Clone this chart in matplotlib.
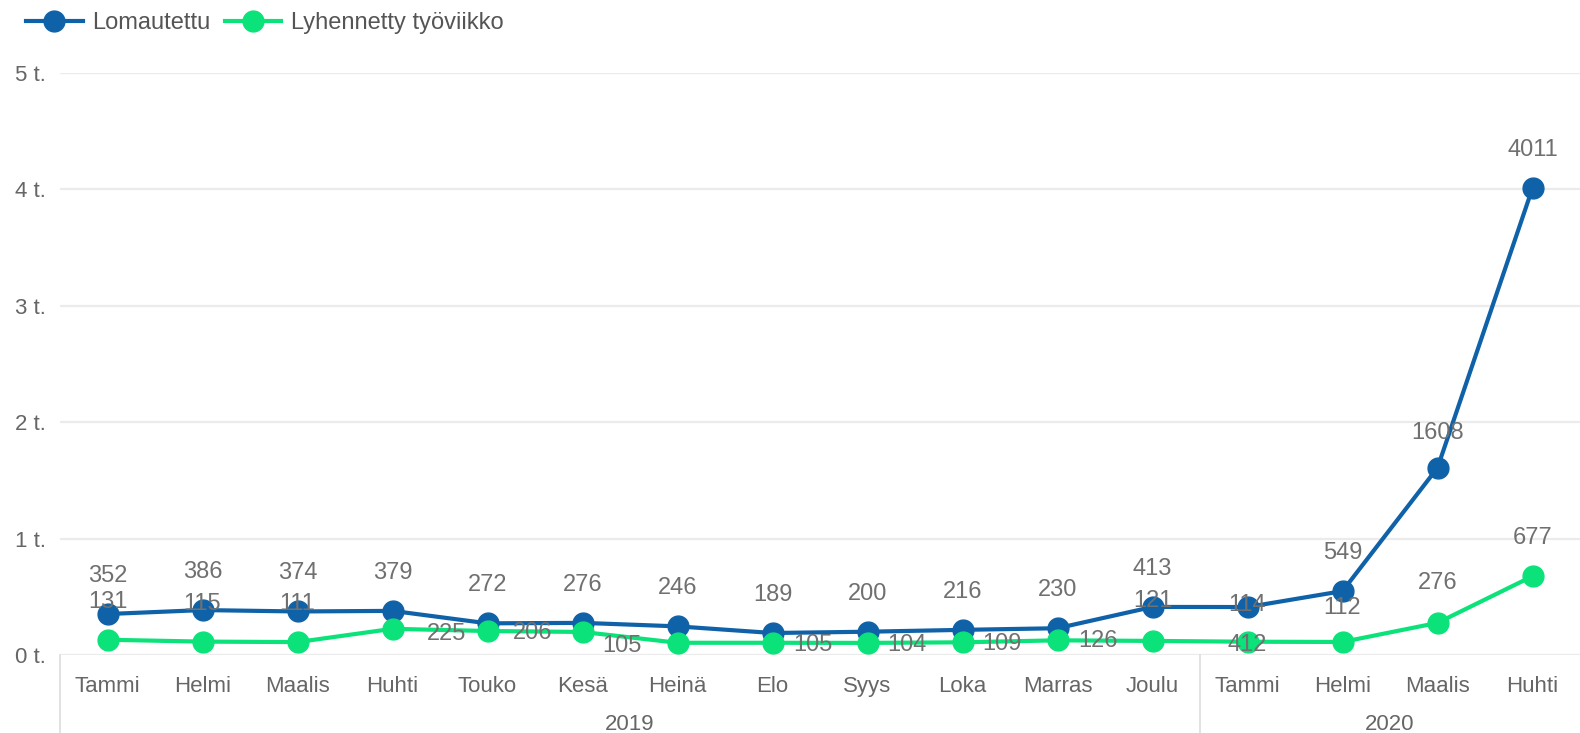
import matplotlib
matplotlib.use("Agg")
import matplotlib.pyplot as plt
import matplotlib.transforms as mtransforms

plt.rcParams['font.family'] = ['Liberation Sans', 'DejaVu Sans']

# data
months = ['Tammi', 'Helmi', 'Maalis', 'Huhti', 'Touko', 'Kesä', 'Heinä', 'Elo',
          'Syys', 'Loka', 'Marras', 'Joulu', 'Tammi', 'Helmi', 'Maalis', 'Huhti']
years = ['2019', '2020']
year_counts = [12, 4]
lomautettu = [352, 386, 374, 379, 272, 276, 246, 189, 200, 216, 230, 413, 412, 549, 1608, 4011]
lyhennetty = [131, 115, 111, 225, 206, 198, 105, 105, 104, 109, 126, 121, 114, 112, 276, 677]
yticks = [0, 1000, 2000, 3000, 4000, 5000]
ytick_labels = ['0 t.', '1 t.', '2 t.', '3 t.', '4 t.', '5 t.']

blue = '#0F62A8'
green = '#0BE27A'
label_col = '#707070'

# label offsets in pixels (dx, dy); None = label hidden
blue_off = [(0, 38)] * 12 + [(0, -38), (0, 38), (0, 35), (0, 38)]
green_off = [(0, 38), (0, 38), (0, 38), (54, -5), (45, -2), None, (-56, -3), (40, -2),
             (39, -2), (39, -2), (41, -1), (0, 40), (0, 37), (0, 34), (0, 40), (0, 38)]

fig = plt.figure(figsize=(15.8, 7.33), dpi=100)
ax = fig.add_axes([60 / 1580, 78 / 733, 1520 / 1580, 582 / 733])

x = list(range(len(months)))
ax.plot(x, lomautettu, color=blue, lw=3, marker='o', ms=15, label='Lomautettu', zorder=3)
ax.plot(x, lyhennetty, color=green, lw=3, marker='o', ms=15, label='Lyhennetty työviikko', zorder=3)

for xi, v, off in zip(x, lomautettu, blue_off):
    ax.annotate(str(v), (xi, v), xytext=off, textcoords='offset pixels', ha='center',
                va='center', fontsize=17, color=label_col, zorder=5)
for xi, v, off in zip(x, lyhennetty, green_off):
    if off is None:
        continue
    ax.annotate(str(v), (xi, v), xytext=off, textcoords='offset pixels', ha='center',
                va='center', fontsize=17, color=label_col, zorder=5)

ax.set_xlim(-0.5, len(months) - 0.5)
ax.set_ylim(0, 5000)
ax.set_yticks(yticks)
ax.set_yticklabels(ytick_labels)
ax.set_xticks(x)
ax.set_xticklabels(months)
ax.tick_params(axis='both', length=0, labelsize=16, labelcolor='#666666')
ax.tick_params(axis='x', pad=15)
ax.tick_params(axis='y', pad=10)
ax.grid(axis='y', color='#ebebeb', lw=1.6)
ax.set_axisbelow(True)
for s in ax.spines.values():
    s.set_visible(False)

# year groups below the month labels
trans = mtransforms.blended_transform_factory(ax.transData, ax.transAxes)
start = 0
for yr, n in zip(years, year_counts):
    ax.plot([start - 0.5, start - 0.5], [0, -78 / 582], transform=trans, color='#dddddd',
            lw=1.2, clip_on=False)
    ax.text(start + (n - 1) / 2, -70 / 582, yr, transform=trans, ha='center', va='center',
            fontsize=16, color='#666666')
    start += n

fig.legend(loc='upper left', bbox_to_anchor=(0.003, 1.012), ncol=2, frameon=False,
           fontsize=17, handlelength=2.4, handletextpad=0.4, columnspacing=0.6,
           labelcolor='#555555')

fig.savefig('out.png', dpi=100)
